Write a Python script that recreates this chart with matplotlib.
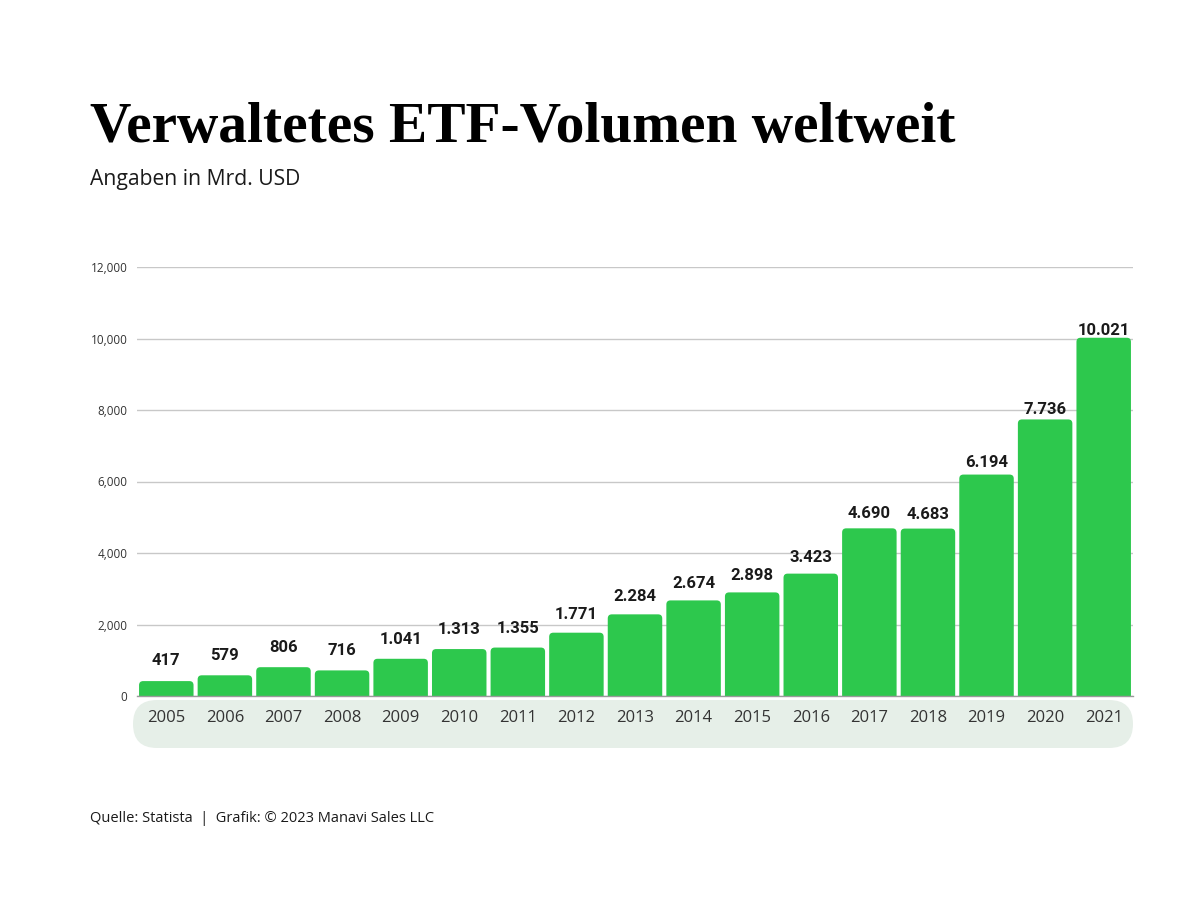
import matplotlib.pyplot as plt
from matplotlib.patches import FancyBboxPatch
from matplotlib.transforms import IdentityTransform
from matplotlib.ticker import FuncFormatter

# Daten (Mrd. USD)
jahre = ['2005', '2006', '2007', '2008', '2009', '2010', '2011', '2012', '2013',
         '2014', '2015', '2016', '2017', '2018', '2019', '2020', '2021']
volumen = [417, 579, 806, 716, 1041, 1313, 1355, 1771, 2284,
           2674, 2898, 3423, 4690, 4683, 6194, 7736, 10021]

titel = 'Verwaltetes ETF-Volumen weltweit'
untertitel = 'Angaben in Mrd. USD'
quelle = 'Quelle: Statista  |  Grafik: © 2023 Manavi Sales LLC'

gruen = '#2DC84D'
text_farbe = '#1a1a1a'

plt.rcParams['font.family'] = ['Open Sans', 'DejaVu Sans']

fig = plt.figure(figsize=(12, 9), dpi=100)
ax = fig.add_axes([137 / 1200, 204 / 900, 996 / 1200, 429 / 900])

ax.set_xlim(-0.5, len(jahre) - 0.5)
ax.set_ylim(0, 12000)

# Balken mit leicht abgerundeten Ecken (unten unter die Achse verlaengert)
breite = 0.93
px_x = 996 / len(jahre)          # Pixel je x-Einheit
px_y = 429 / 12000               # Pixel je y-Einheit
aspekt = (1 / px_y) / (1 / px_x)
for i, v in enumerate(volumen):
    unten = -300
    p = FancyBboxPatch((i - breite / 2, unten), breite, v - unten,
                       boxstyle='round,pad=0,rounding_size=0.07',
                       mutation_aspect=aspekt, facecolor=gruen,
                       edgecolor='none', zorder=3)
    ax.add_patch(p)

# Wertebeschriftung mit deutschem Tausenderpunkt
for i, v in enumerate(volumen):
    off_px = 21 - 0.0014 * v
    ax.annotate(f'{v:,}'.replace(',', '.'), (i, v), xytext=(0, off_px * 0.72),
                textcoords='offset points', ha='center', va='center',
                fontsize=12, fontweight='bold', family=['Roboto', 'DejaVu Sans'],
                color=text_farbe, zorder=4)

ax.set_yticks(range(0, 12001, 2000))
ax.yaxis.set_major_formatter(FuncFormatter(lambda v, p: f'{int(v):,}'))
ax.grid(axis='y', color='#c8c8c8', linewidth=1, zorder=0)
ax.set_axisbelow(True)
for s in ['top', 'right', 'left']:
    ax.spines[s].set_visible(False)
ax.spines['bottom'].set_color('#9a9a9a')
ax.spines['bottom'].set_linewidth(1)
ax.spines['bottom'].set_zorder(5)
ax.tick_params(axis='y', length=0, pad=7, labelsize=8.5, labelcolor='#333333')
ax.tick_params(axis='x', length=0, pad=10, labelsize=12, labelcolor='#333333')
ax.set_xticks(range(len(jahre)))
ax.set_xticklabels(jahre)

# Hintergrund fuer die Jahreszahlen
pille = FancyBboxPatch((133, 152), 1000, 48,
                       boxstyle='round,pad=0,rounding_size=24',
                       transform=IdentityTransform(), facecolor='#e6efe8',
                       edgecolor='none', zorder=-1)
fig.patches.append(pille)

fig.text(90 / 1200, 1 - 142 / 900, titel, fontsize=41.3, fontweight='bold',
         family=['Liberation Serif', 'DejaVu Serif'], color='black', va='baseline')
fig.text(90 / 1200, 1 - 180 / 900, untertitel, fontsize=15.2, color=text_farbe, va='center')
fig.text(90 / 1200, 1 - 818 / 900, quelle, fontsize=10.5, color=text_farbe, va='center')

fig.savefig('out.png', dpi=100, facecolor='white')
